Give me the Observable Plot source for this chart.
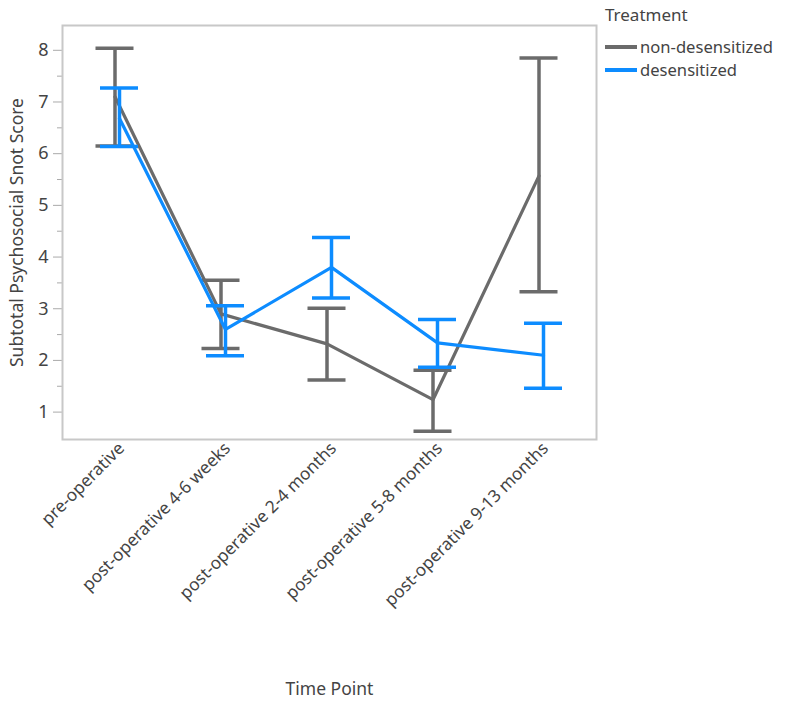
<!DOCTYPE html>
<html>
<head>
<meta charset="utf-8">
<script src="https://cdn.jsdelivr.net/npm/d3@7"></script>
<script src="https://cdn.jsdelivr.net/npm/@observablehq/plot@0.6"></script>
<style>
  html, body { margin: 0; padding: 0; background: #fff; }
  #wrap { position: relative; width: 787px; height: 710px; font-family: "Noto Sans", "Open Sans", sans-serif; }
  #legend { position: absolute; left: 605px; top: 3px; color: #444; font-size: 16.6px; }
  #legend .title { line-height: 24px; margin-bottom: 9px; font-size: 17px; }
  #legend .row { display: flex; align-items: center; height: 22.6px; line-height: 22.6px; }
  #legend .sw { width: 32px; height: 4px; margin-right: 3px; }
</style>
</head>
<body>
<div id="wrap"></div>
<script>
const categories = ["pre-operative", "post-operative 4-6 weeks", "post-operative 2-4 months", "post-operative 5-8 months", "post-operative 9-13 months"];
const seriesNames = ["non-desensitized", "desensitized"];
const seriesColors = ["#6b6b6b", "#0d8cff"];
const nonMean = [7.10, 2.90, 2.32, 1.24, 5.57];
const nonLow  = [6.15, 2.23, 1.62, 0.63, 3.33];
const nonHigh = [8.04, 3.55, 3.01, 1.81, 7.85];
const desMean = [6.68, 2.60, 3.80, 2.34, 2.10];
const desLow  = [6.14, 2.09, 3.21, 1.87, 1.46];
const desHigh = [7.27, 3.06, 4.38, 2.79, 2.72];
const yTicks = [1, 2, 3, 4, 5, 6, 7, 8];
const yMinor = [1.5, 2.5, 3.5, 4.5, 5.5, 6.5, 7.5];

const build = (mean, low, high) => categories.map((c, i) => ({cat: c, mean: mean[i], low: low[i], high: high[i]}));
const nonData = build(nonMean, nonLow, nonHigh);
const desData = build(desMean, desLow, desHigh);

const font = "Noto Sans, Open Sans, sans-serif";
const capInset = 34;

function seriesMarks(data, color, dx) {
  return [
    Plot.ruleX(data, {x: "cat", y1: "low", y2: "high", stroke: color, strokeWidth: 3.5, dx}),
    Plot.tickY(data, {x: "cat", y: "low", stroke: color, strokeWidth: 3.5, insetLeft: capInset, insetRight: capInset, dx}),
    Plot.tickY(data, {x: "cat", y: "high", stroke: color, strokeWidth: 3.5, insetLeft: capInset, insetRight: capInset, dx}),
    Plot.line(data, {x: "cat", y: "mean", stroke: color, strokeWidth: 3.2, dx, strokeLinejoin: "round"})
  ];
}

const chart = Plot.plot({
  width: 787,
  height: 710,
  marginLeft: 62,
  marginRight: 191,
  marginTop: 25,
  marginBottom: 271,
  style: {fontFamily: font, fontSize: "17.5px", color: "#444", background: "transparent"},
  x: {type: "band", domain: categories, padding: 0, label: null},
  y: {domain: [0.47, 8.48], label: null},
  marks: [
    Plot.axisY({ticks: yTicks, tickSize: 9, tickPadding: 5, stroke: "#aaa", fill: "#444", fontSize: 18, label: null}),
    Plot.axisY({ticks: yMinor, tickSize: 5, tickFormat: () => "", stroke: "#aaa", label: null}),
    Plot.axisX({tickRotate: -45, tickSize: 0, tickPadding: 6, dx: 4, fill: "#444", fontSize: 17.2, label: null}),
    Plot.frame({stroke: "#c8c8c8", strokeWidth: 2}),
    ...seriesMarks(nonData, seriesColors[0], -2.5),
    ...seriesMarks(desData, seriesColors[1], 2),
    Plot.text(["Subtotal Psychosocial Snot Score"], {frameAnchor: "left", rotate: -90, dx: -45, textAnchor: "middle", fontSize: 17.5, fill: "#444"}),
    Plot.text(["Time Point"], {frameAnchor: "bottom", dy: 255, textAnchor: "middle", fontSize: 17.5, fill: "#444"})
  ]
});

const wrap = document.getElementById("wrap");
wrap.appendChild(chart);
chart.style.position = "absolute";
chart.style.left = "0";
chart.style.top = "0";

const legend = document.createElement("div");
legend.id = "legend";
let html = '<div class="title">Treatment</div>';
seriesNames.forEach((n, i) => {
  html += `<div class="row"><div class="sw" style="background:${seriesColors[i]}"></div><span>${n}</span></div>`;
});
legend.innerHTML = html;
wrap.appendChild(legend);
</script>
</body>
</html>
